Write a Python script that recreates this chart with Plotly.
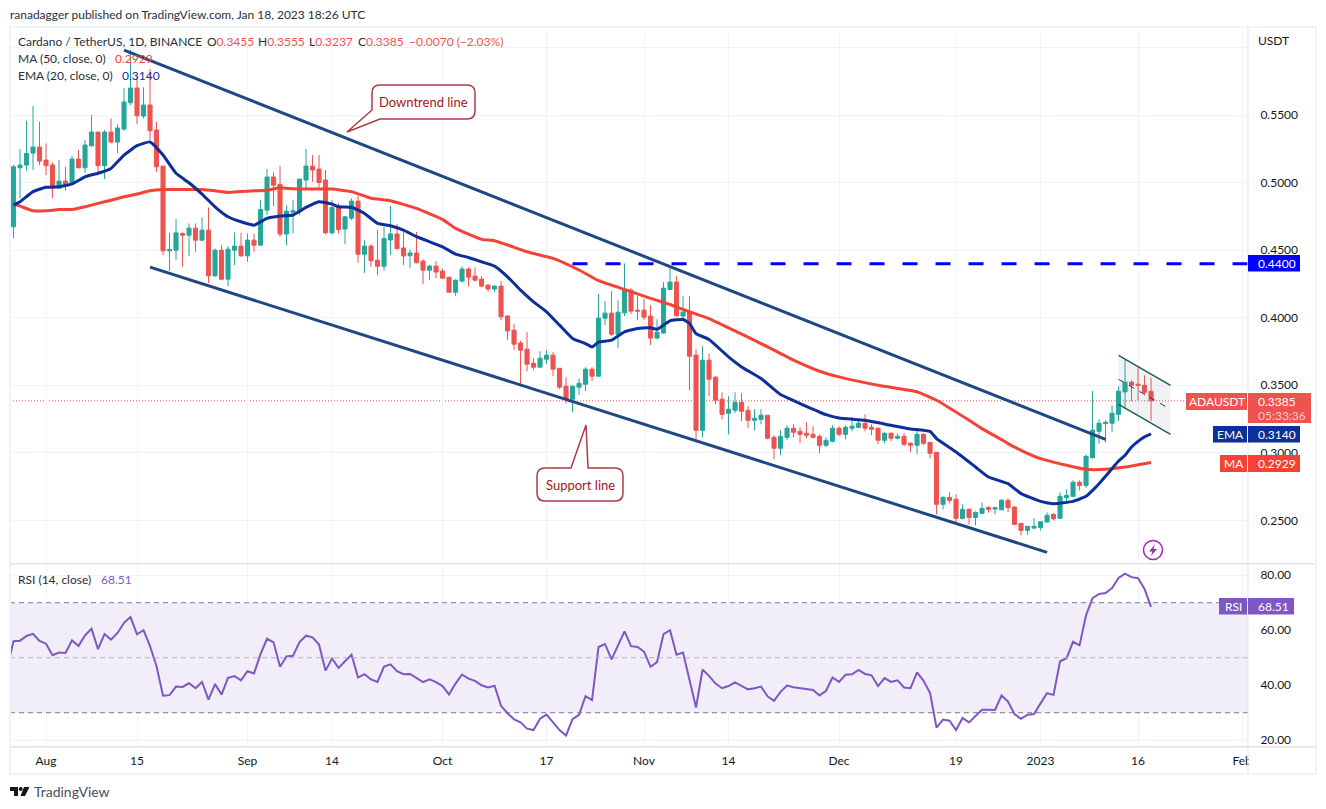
# -*- coding: utf-8 -*-
# ADA/USDT daily chart, TradingView look

import pandas as pd
import plotly.graph_objects as go

first_day = "2022-07-27"

opens = [.4673,.5110,.5130,.5219,.5263,.5167,.5130,.4959,.5011,.4999,
         .5174,.5110,.5273,.5374,.5125,.5374,.5300,.5396,.5591,.5700,
         .5493,.5574,.5389,.5122,.4495,.4500,.4623,.4611,.4663,.4574,
         .4648,.4310,.4500,.4285,.4500,.4530,.4458,.4574,.4537,.4796,
         .5041,.4986,.4619,.4781,.4784,.5019,.5122,.5100,.5019,.4628,
         .4816,.4656,.4737,.4863,.4470,.4530,.4426,.4381,.4575,.4620,
         .4516,.4459,.4479,.4419,.4352,.4382,.4345,.4300,.4189,.4271,
         .4360,.4308,.4286,.4241,.4212,.4234,.4012,.3908,.3812,.3767,
         .3663,.3634,.3693,.3723,.3626,.3493,.3397,.3486,.3508,.3619,
         .3567,.3997,.4034,.3878,.4036,.4204,.4056,.4056,.4012,.3849,
         .3886,.4209,.4264,.4012,.4041,.3723,.3167,.3686,.3560,.3397,
         .3293,.3315,.3374,.3315,.3241,.3248,.3278,.3115,.3034,.3115,
         .3182,.3159,.3145,.3137,.3122,.3056,.3085,.3182,.3137,.3182,
         .3189,.3219,.3189,.3182,.3093,.3145,.3108,.3122,.3071,.3056,
         .3137,.3078,.3004,.2619,.2670,.2656,.2515,.2582,.2522,.2552,
         .2596,.2584,.2579,.2648,.2599,.2478,.2426,.2443,.2448,.2488,
         .2544,.2515,.2668,.2678,.2782,.2759,.2964,.3159,.3216,.3219,
         .3285,.3451,.3523,.3508,.3500,.3455]

highs = [.5130,.5248,.5458,.5567,.5451,.5290,.5149,.5167,.5117,.5199,
         .5241,.5315,.5500,.5374,.5389,.5475,.5431,.5698,.5981,.5789,
         .5705,.5841,.5451,.5122,.4628,.4730,.4631,.4698,.4698,.4742,
         .4816,.4512,.4537,.4530,.4631,.4628,.4623,.4623,.4870,.5100,
         .5075,.5122,.4833,.4870,.5026,.5248,.5204,.5204,.5093,.4870,
         .4846,.4752,.4883,.4902,.4574,.4544,.4648,.4673,.4827,.4693,
         .4637,.4506,.4634,.4432,.4390,.4419,.4365,.4300,.4283,.4382,
         .4372,.4372,.4308,.4249,.4241,.4271,.4019,.3952,.3829,.3893,
         .3700,.3752,.3760,.3745,.3626,.3560,.3500,.3550,.3634,.3634,
         .4175,.4123,.4197,.4130,.4402,.4219,.4162,.4138,.4093,.3989,
         .4264,.4390,.4308,.4160,.4160,.3767,.3789,.3737,.3567,.3448,
         .3419,.3448,.3441,.3345,.3323,.3323,.3278,.3130,.3167,.3204,
         .3211,.3189,.3226,.3197,.3137,.3115,.3204,.3197,.3204,.3263,
         .3241,.3285,.3211,.3189,.3152,.3152,.3145,.3145,.3078,.3182,
         .3145,.3078,.3004,.2678,.2707,.2693,.2619,.2589,.2567,.2633,
         .2604,.2599,.2658,.2663,.2604,.2478,.2456,.2517,.2490,.2559,
         .2554,.2707,.2730,.2796,.2796,.2989,.3458,.3248,.3241,.3352,
         .3493,.3693,.3537,.3641,.3574,.3555]

lows = [.4589,.4883,.5088,.5093,.5130,.5056,.4885,.4957,.4940,.4994,
        .5105,.5073,.5265,.5060,.5026,.5290,.5216,.5384,.5574,.5433,
        .5475,.5315,.5078,.4463,.4347,.4426,.4377,.4456,.4488,.4570,
        .4258,.4302,.4278,.4233,.4389,.4451,.4414,.4488,.4537,.4759,
        .4826,.4599,.4537,.4623,.4759,.4944,.5006,.4957,.4616,.4616,
        .4623,.4544,.4722,.4406,.4332,.4377,.4315,.4347,.4464,.4506,
        .4390,.4370,.4402,.4249,.4278,.4293,.4286,.4184,.4162,.4259,
        .4234,.4269,.4224,.4192,.4192,.3982,.3834,.3760,.3493,.3604,
        .3612,.3631,.3656,.3567,.3471,.3365,.3300,.3426,.3456,.3532,
        .3567,.3945,.3863,.3775,.4012,.4027,.3982,.3982,.3797,.3841,
        .3883,.4204,.4007,.3982,.3463,.3100,.3115,.3419,.3360,.3248,
        .3137,.3295,.3234,.3182,.3167,.3211,.3100,.2952,.2982,.3093,
        .3115,.3071,.3108,.3108,.2996,.3041,.3078,.3122,.3100,.3159,
        .3182,.3159,.3130,.3063,.3071,.3085,.3100,.3048,.3004,.2989,
        .3056,.2959,.2544,.2582,.2626,.2470,.2507,.2470,.2463,.2549,
        .2559,.2544,.2574,.2562,.2468,.2389,.2391,.2436,.2426,.2485,
        .2500,.2515,.2623,.2673,.2722,.2740,.2957,.3068,.3076,.3155,
        .3234,.3323,.3382,.3382,.3426,.3237]

closes = [.5117,.5130,.5216,.5263,.5159,.5125,.4959,.5011,.4986,.5174,
          .5110,.5278,.5374,.5125,.5374,.5300,.5404,.5596,.5700,.5495,
          .5574,.5384,.5117,.4495,.4505,.4628,.4611,.4663,.4574,.4648,
          .4310,.4500,.4285,.4507,.4530,.4458,.4574,.4537,.4801,.5041,
          .4981,.4619,.4789,.4791,.5026,.5122,.5093,.5001,.4628,.4816,
          .4653,.4747,.4863,.4470,.4530,.4421,.4381,.4586,.4620,.4511,
          .4457,.4479,.4407,.4352,.4382,.4338,.4293,.4189,.4278,.4360,
          .4300,.4278,.4234,.4212,.4234,.4007,.3903,.3804,.3760,.3656,
          .3634,.3700,.3723,.3619,.3486,.3397,.3493,.3515,.3619,.3567,
          .3997,.4034,.3878,.4041,.4204,.4049,.4049,.4004,.3849,.3893,
          .4219,.4264,.4014,.4041,.3715,.3167,.3686,.3545,.3389,.3285,
          .3323,.3374,.3308,.3241,.3256,.3278,.3108,.3034,.3122,.3182,
          .3152,.3137,.3130,.3115,.3056,.3093,.3182,.3137,.3189,.3197,
          .3219,.3182,.3174,.3093,.3145,.3108,.3122,.3063,.3056,.3137,
          .3071,.2996,.2619,.2670,.2648,.2515,.2582,.2522,.2559,.2589,
          .2582,.2594,.2648,.2594,.2470,.2426,.2456,.2456,.2490,.2537,
          .2512,.2678,.2685,.2782,.2759,.2974,.3167,.3219,.3226,.3293,
          .3456,.3523,.3500,.3498,.3448,.3385]

ema_days = [0,1,3,5,7,9,11,13,15,17,19,21,23,25,27,29,31,33,35,37,39,41,43,45,47,49,
            50,52,54,56,58,60,62,64,66,68,70,72,74,76,78,80,82,84,86,88,89,90,92,94,
            96,98,99,100,101,103,104,105,107,110,112,115,118,121,125,127,131,135,138,
            141,142,145,148,150,153,155,158,160,163,165,166,167,168,169,170,171,172,173,174,175]
ema_values = [.4833,.4858,.4933,.4965,.4970,.4990,.5043,.5069,.5105,.5204,.5273,.5301,.5204,
              .5069,.4999,.4915,.4821,.4747,.4710,.4685,.4735,.4752,.4760,.4816,.4858,.4841,
              .4821,.4817,.4772,.4698,.4681,.4649,.4600,.4562,.4525,.4471,.4446,.4414,.4382,
              .4303,.4204,.4118,.4044,.3945,.3847,.3809,.3784,.3819,.3834,.3896,.3920,.3925,
              .3915,.3945,.3977,.3987,.3957,.3883,.3839,.3710,.3636,.3550,.3431,.3365,.3283,
              .3258,.3241,.3204,.3177,.3159,.3105,.3006,.2895,.2821,.2772,.2698,.2641,.2624,
              .2641,.2678,.2722,.2772,.2826,.2883,.2940,.2982,.3043,.3085,.3118,.3140]

ma_days = [0,1,3,5,7,9,11,13,15,17,19,21,23,25,29,31,33,35,37,39,41,43,47,49,52,55,58,62,
           66,68,72,74,79,83,87,90,94,98,101,103,107,110,115,120,124,127,133,139,142,147,
           149,152,153,155,158,162,165,168,171,175]
ma_values = [.4841,.4826,.4791,.4791,.4801,.4801,.4821,.4846,.4870,.4895,.4915,.4939,.4949,
             .4949,.4949,.4939,.4927,.4934,.4939,.4944,.4961,.4954,.4952,.4952,.4933,.4884,
             .4866,.4809,.4728,.4661,.4580,.4570,.4488,.4439,.4353,.4274,.4209,.4143,.4098,
             .4061,.3994,.3925,.3809,.3686,.3604,.3562,.3500,.3451,.3389,.3241,.3179,.3098,
             .3068,.3019,.2957,.2908,.2878,.2878,.2895,.2929]

# RSI starts one day before the first candle, it comes in from the left edge
rsi_values = [46.1,56.0,56.2,57.9,58.7,56.1,55.1,50.9,51.9,51.7,56.3,54.3,58.1,60.6,53.1,58.6,
              56.6,59.0,62.7,64.8,58.5,60.0,54.2,46.9,36.2,36.4,39.5,39.4,40.7,38.9,41.2,34.8,
              40.4,36.6,42.7,43.3,41.8,45.1,44.3,51.3,56.9,55.6,46.7,50.5,50.7,55.7,58.0,57.4,
              54.8,45.3,49.7,46.3,48.7,51.1,42.8,44.0,42.1,41.2,46.8,47.6,45.1,44.0,44.1,42.7,
              41.1,42.1,41.1,39.7,36.6,40.6,43.9,42.4,41.6,40.0,39.2,39.8,32.5,29.8,27.6,26.5,
              24.2,23.7,27.8,29.3,26.7,23.7,21.7,27.7,29.2,36.0,34.6,53.9,55.0,49.4,54.5,59.6,
              54.2,53.9,52.2,46.7,48.4,58.6,60.0,51.1,51.9,41.8,31.9,45.7,43.4,40.6,38.9,39.7,
              41.0,39.8,38.5,38.9,39.5,36.0,34.3,37.6,39.9,39.3,38.9,38.7,38.3,36.3,38.0,42.8,
              41.2,43.8,44.0,45.6,44.1,43.6,39.7,42.6,41.2,41.8,39.2,38.9,44.7,41.6,37.2,24.6,
              27.5,27.1,23.7,28.1,26.5,28.8,31.1,31.1,31.0,36.3,34.0,29.5,27.8,29.3,29.5,33.4,
              37.1,36.5,48.7,49.8,55.8,54.5,65.4,71.7,73.2,73.5,75.3,79.0,80.6,79.3,78.9,75.0,
              68.51]

date_ticks = ["2022-08-01","2022-08-15","2022-09-01","2022-09-14","2022-10-01","2022-10-17",
              "2022-11-01","2022-11-14","2022-12-01","2022-12-19","2023-01-01","2023-01-16",
              "2023-02-01"]
date_labels = ["Aug","15","Sep","14","Oct","17","Nov","14","Dec","19","2023","16","Feb"]
price_ticks = [0.25,0.30,0.35,0.40,0.45,0.50,0.55,0.60]
price_labels = ["0.2500","0.3000","0.3500","0.4000","0.4500","0.5000","0.5500",""]
rsi_ticks = [20,40,60,80]
rsi_labels = ["20.00","40.00","60.00","80.00"]

# drawn lines, as (date, price) ends
downtrend_x = ["2022-08-13","2023-01-11"]
downtrend_y = [.5981,.3100]
support_x = ["2022-08-17","2023-01-02"]
support_y = [.4374,.2263]
flag_x = ["2023-01-13","2023-01-21"]
flag_top = [.3722,.3500]
flag_mid = [.3544,.3322]
flag_bottom = [.3359,.3137]
resistance_x = ["2022-10-21","2023-02-02"]
resistance_y = [.44,.44]

GREEN = "#26a69a"
RED = "#ef5350"
MA_RED = "#f44336"
EMA_BLUE = "#0d2f9a"
TREND = "#1f4782"
PURPLE = "#7e57c2"
GRID = "#f0f3fa"
TEXT = "#131722"
FONT = "Lato"

dates = pd.date_range(first_day, periods=len(closes), freq="D")
rsi_dates = pd.date_range("2022-07-26", periods=len(rsi_values), freq="D")

# plot area in window pixels
LEFT, RIGHT, TOP, BOTTOM, SPLIT = 10, 1248, 31, 746, 563.5
W, H = 1326, 809


def px(x):
    return (x - LEFT) / (RIGHT - LEFT)


def py(y):
    return (BOTTOM - y) / (BOTTOM - TOP)


def box(x0, y0, x1, y1, color, layer="above"):
    return dict(type="rect", xref="paper", yref="paper", x0=px(x0), x1=px(x1), y0=py(y0), y1=py(y1),
                fillcolor=color, line_width=0, layer=layer)


def label(x, y, text, color=TEXT, size=12, anchor="left"):
    return dict(xref="paper", yref="paper", x=px(x), y=py(y), text=text, showarrow=False,
                xanchor=anchor, yanchor="middle", font=dict(family=FONT, size=size, color=color),
                xshift=0, yshift=0, borderpad=0, borderwidth=0)


def path(points, close=True):
    d = "M " + " L ".join(f"{px(a):.5f},{py(b):.5f}" for a, b in points)
    return d + (" Z" if close else "")


def callout(x0, y0, x1, y1, r, tip, base_a, base_b, tip_side):
    # rounded box with a pointer, tip_side = left/bottom edge that carries it
    pts = [f"M {px(x0+r):.5f},{py(y0):.5f}", f"L {px(x1-r):.5f},{py(y0):.5f}",
           f"Q {px(x1):.5f},{py(y0):.5f} {px(x1):.5f},{py(y0+r):.5f}",
           f"L {px(x1):.5f},{py(y1-r):.5f}",
           f"Q {px(x1):.5f},{py(y1):.5f} {px(x1-r):.5f},{py(y1):.5f}"]
    if tip_side == "left":
        pts += [f"L {px(base_b[0]):.5f},{py(base_b[1]):.5f}", f"L {px(tip[0]):.5f},{py(tip[1]):.5f}",
                f"L {px(base_a[0]):.5f},{py(base_a[1]):.5f}", f"L {px(x0):.5f},{py(y0+r):.5f}",
                f"Q {px(x0):.5f},{py(y0):.5f} {px(x0+r):.5f},{py(y0):.5f} Z"]
    else:
        pts = [f"M {px(x0+r):.5f},{py(y0):.5f}", f"L {px(base_a[0]):.5f},{py(base_a[1]):.5f}",
               f"L {px(tip[0]):.5f},{py(tip[1]):.5f}", f"L {px(base_b[0]):.5f},{py(base_b[1]):.5f}"] + pts[1:]
        pts += [f"L {px(x0+r):.5f},{py(y1):.5f}",
                f"Q {px(x0):.5f},{py(y1):.5f} {px(x0):.5f},{py(y1-r):.5f}",
                f"L {px(x0):.5f},{py(y0+r):.5f}",
                f"Q {px(x0):.5f},{py(y0):.5f} {px(x0+r):.5f},{py(y0):.5f} Z"]
    return dict(type="path", xref="paper", yref="paper", path=" ".join(pts), fillcolor="white",
                line=dict(color="#ad3c42", width=1.5), layer="above")


fig = go.Figure()

fig.add_trace(go.Scatter(x=flag_x + flag_x[::-1], y=flag_top + flag_bottom[::-1], mode="lines", fill="toself",
                         fillcolor="rgba(120,130,140,0.10)", line=dict(width=0), hoverinfo="skip"))

fig.add_trace(go.Candlestick(x=dates, open=opens, high=highs, low=lows, close=closes,
                             increasing=dict(line=dict(color=GREEN, width=1), fillcolor=GREEN),
                             decreasing=dict(line=dict(color=RED, width=1), fillcolor=RED),
                             whiskerwidth=0))

fig.add_trace(go.Scatter(x=dates[ma_days], y=ma_values, mode="lines",
                         line=dict(color=MA_RED, width=3, shape="spline", smoothing=0.4)))
fig.add_trace(go.Scatter(x=dates[ema_days], y=ema_values, mode="lines",
                         line=dict(color=EMA_BLUE, width=3, shape="spline", smoothing=0.4)))

fig.add_trace(go.Scatter(x=downtrend_x, y=downtrend_y, mode="lines", line=dict(color=TREND, width=3)))
fig.add_trace(go.Scatter(x=support_x, y=support_y, mode="lines", line=dict(color=TREND, width=3)))
fig.add_trace(go.Scatter(x=resistance_x, y=resistance_y, mode="lines",
                         line=dict(color="#0000ff", width=3, dash="15px,18px")))

fig.add_trace(go.Scatter(x=flag_x, y=flag_top, mode="lines", line=dict(color="#1d5c5a", width=1.5)))
fig.add_trace(go.Scatter(x=flag_x, y=flag_bottom, mode="lines", line=dict(color="#1d5c5a", width=1.5)))
fig.add_trace(go.Scatter(x=flag_x, y=flag_mid, mode="lines", line=dict(color="#1d3c3a", width=1, dash="6px,6px")))

fig.add_trace(go.Scatter(x=rsi_dates, y=rsi_values, mode="lines", yaxis="y2",
                         line=dict(color=PURPLE, width=2)))

shapes = [
    # RSI band and levels
    dict(type="rect", xref="paper", x0=0, x1=1, yref="y2", y0=30, y1=70,
         fillcolor="rgba(126,87,194,0.10)", line_width=0, layer="below"),
    dict(type="line", xref="paper", x0=0, x1=1, yref="y2", y0=70, y1=70,
         line=dict(color="#787b86", width=1, dash="5px,4px"), layer="above"),
    dict(type="line", xref="paper", x0=0, x1=1, yref="y2", y0=50, y1=50,
         line=dict(color="#b4b1c0", width=1, dash="5px,4px"), layer="above"),
    dict(type="line", xref="paper", x0=0, x1=1, yref="y2", y0=30, y1=30,
         line=dict(color="#787b86", width=1, dash="5px,4px"), layer="above"),
    # last price
    dict(type="line", xref="paper", x0=0, x1=1, yref="y", y0=closes[-1], y1=closes[-1],
         line=dict(color=RED, width=1, dash="1px,2px"), layer="below"),
    # frame
    box(9, 26, 1317, 28, GRID), box(9, 26, 11, 775, GRID), box(1315, 26, 1317, 775, GRID),
    box(9, 773, 1317, 775, GRID),
    box(1249, 748, 1315, 773, "white"),
    box(10, 563, 1315, 564.5, "#e0e3eb"), box(10, 746, 1315, 747.5, "#e0e3eb"),
    box(1247.5, 28, 1248.5, 773, "#e0e3eb"),
    # price scale tags
    box(1186, 393, 1247, 410, RED), box(1248, 393, 1311, 423, RED),
    box(1213, 426, 1247, 442.5, EMA_BLUE), box(1248, 426, 1300, 442.5, EMA_BLUE),
    box(1220, 455, 1247, 472, MA_RED), box(1248, 455, 1300, 472, MA_RED),
    box(1248, 255, 1300, 271.5, "#0000ff"),
    box(1219, 598, 1247, 614.5, PURPLE), box(1248, 598, 1294, 614.5, PURPLE),
    # callouts
    callout(372, 85, 475, 119, 8, (347, 132), (372, 110), (380, 119), "left"),
    callout(537, 468, 623, 501, 8, (586, 425), (571, 468), (588, 468), "top"),
    # lightning mark
    dict(type="circle", xref="paper", yref="paper", x0=px(1143.5), x1=px(1162.5), y0=py(559.5), y1=py(540.5),
         fillcolor="white", line=dict(color="#9c27b0", width=1.5), layer="above"),
    dict(type="path", xref="paper", yref="paper", line_width=0, fillcolor="#9c27b0", layer="above",
         path=path([(1155, 544.5), (1149, 551.5), (1152.5, 551.5), (1151, 556), (1157, 549), (1153.5, 549)])),
    # logo
    dict(type="path", xref="paper", yref="paper", line_width=0, fillcolor="#131722", layer="above",
         path=path([(10, 787), (18, 787), (18, 796), (14, 796), (14, 791), (10, 791)])),
    dict(type="circle", xref="paper", yref="paper", line_width=0, fillcolor="#131722", layer="above",
         x0=px(18.7), x1=px(22.7), y0=py(791), y1=py(787)),
    dict(type="path", xref="paper", yref="paper", line_width=0, fillcolor="#131722", layer="above",
         path=path([(24, 787), (29.5, 787), (25, 796), (20.5, 796)])),
]

red = lambda s: f'<span style="color:{RED}">{s}</span>'
annotations = [
    label(10, 15, "ranadagger published on TradingView.com, Jan 18, 2023 18:26 UTC", "#2a2e39", 12),
    label(18, 42, "Cardano / TetherUS, 1D, BINANCE", "#2a2e39", 12),
    label(207, 42, "O" + red("0.3455"), "#2a2e39", 12),
    label(258, 42, "H" + red("0.3555"), "#2a2e39", 12),
    label(309, 42, "L" + red("0.3237"), "#2a2e39", 12),
    label(358, 42, "C" + red("0.3385"), "#2a2e39", 12),
    label(409, 42, red("−0.0070 (−2.03%)"), "#2a2e39", 12),
    label(18, 59, "MA (50, close, 0)", "#2a2e39", 12),
    label(115, 59, "0.2929", MA_RED, 12),
    label(18, 76, "EMA (20, close, 0)", "#2a2e39", 12),
    label(122, 76, "0.3140", EMA_BLUE, 12),
    label(18, 579, "RSI (14, close)", "#2a2e39", 12),
    label(101, 579, "68.51", PURPLE, 12),
    label(1258, 41, "USDT", TEXT, 12),
    label(1217, 401.5, "ADAUSDT", "white", 12, "center"),
    label(1258, 401, "0.3385", "white", 12),
    label(1258, 415.5, "05:33:36", "rgba(255,255,255,0.7)", 12),
    label(1230, 434.5, "EMA", "white", 12, "center"),
    label(1258, 434.5, "0.3140", "white", 12),
    label(1233.5, 463.5, "MA", "white", 12, "center"),
    label(1258, 463.5, "0.2929", "white", 12),
    label(1258, 263.5, "0.4400", "white", 12),
    label(1233, 606.5, "RSI", "white", 12, "center"),
    label(1258, 606.5, "68.51", "white", 12),
    label(423.5, 102, "Downtrend line", "#a31621", 13, "center"),
    label(580, 484.5, "Support line", "#a31621", 13, "center"),
    label(34, 791, "TradingView", "#4a4e59", 14),
]

fig.update_layout(
    width=W, height=H, showlegend=False, boxgap=0.1,
    margin=dict(l=LEFT, r=W - RIGHT, t=TOP, b=H - BOTTOM, autoexpand=False),
    paper_bgcolor="white", plot_bgcolor="white",
    font=dict(family=FONT, size=12, color=TEXT),
    shapes=shapes, annotations=annotations,
    xaxis=dict(type="date", anchor="y2", range=["2022-07-26 11:00", "2023-02-01 22:00"],
               tickmode="array", tickvals=date_ticks, ticktext=date_labels, tickangle=0,
               showgrid=True, gridcolor=GRID, gridwidth=1, zeroline=False, showline=False,
               ticks="outside", ticklen=4, tickcolor="white", rangeslider=dict(visible=False),
               tickfont=dict(family=FONT, size=12, color=TEXT)),
    yaxis=dict(domain=[(BOTTOM - SPLIT) / (BOTTOM - TOP), 1], anchor="x", side="right",
               range=[0.2181, 0.6122], tickmode="array", tickvals=price_ticks, ticktext=price_labels,
               showgrid=True, gridcolor=GRID, gridwidth=1, zeroline=False, showline=False,
               ticks="outside", ticklen=9, tickcolor="white",
               tickfont=dict(family=FONT, size=12, color=TEXT)),
    yaxis2=dict(domain=[0, (BOTTOM - SPLIT - 1) / (BOTTOM - TOP)], anchor="x", side="right",
                range=[17.9, 83.9], tickmode="array", tickvals=rsi_ticks, ticktext=rsi_labels,
                showgrid=True, gridcolor=GRID, gridwidth=1, zeroline=False, showline=False,
                ticks="outside", ticklen=9, tickcolor="white",
                tickfont=dict(family=FONT, size=12, color=TEXT)),
)

fig.write_html("out.html", config=dict(displayModeBar=False),
               post_script="document.body.style.margin='0';document.documentElement.style.overflow='hidden';")
